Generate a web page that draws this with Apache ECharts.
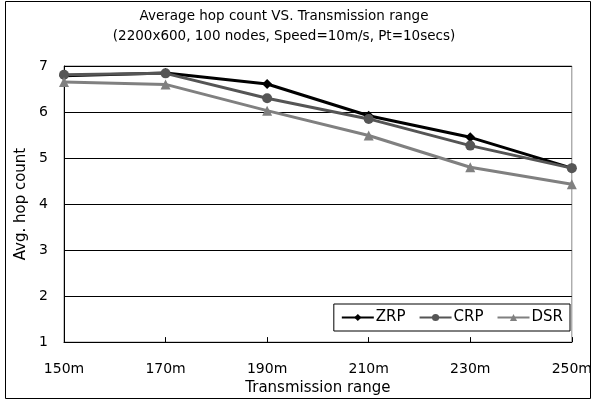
<!DOCTYPE html>
<html><head><meta charset="utf-8">
<script src="https://cdn.jsdelivr.net/npm/echarts@6/dist/echarts.min.js"></script>
<style>html,body{margin:0;padding:0;background:#fff}#c{width:595px;height:401px}</style>
</head><body><div id="c"></div>
<script>
const categories = ['150m','170m','190m','210m','230m','250m'];
const zrp = [6.79, 6.85, 6.61, 5.92, 5.45, 4.78];
const crp = [6.81, 6.84, 6.30, 5.85, 5.27, 4.78];
const dsr = [6.65, 6.60, 6.03, 5.49, 4.80, 4.43];
const titleLines = ['Average hop count VS. Transmission range', '(2200x600, 100 nodes, Speed=10m/s, Pt=10secs)'];
const FONT = 'DejaVu Sans';
const chart = echarts.init(document.getElementById('c'), null, {renderer:'canvas'});
chart.setOption({
  animation:false,
  backgroundColor:'#fff',
  textStyle:{fontFamily:FONT},
  title:{text:titleLines.join('\n'), left:279, top:1, textAlign:'center',
    textStyle:{fontFamily:FONT, fontSize:13.5, fontWeight:'normal', color:'#000', lineHeight:20}},
  graphic:[{type:'rect', shape:{x:5.5,y:1.5,width:585,height:397}, style:{fill:'none', stroke:'#000', lineWidth:1}, z:-1}],
  grid:{left:64, right:22, top:66, bottom:58, show:true, borderColor:'#888', borderWidth:1},
  legend:{right:25, top:304, orient:'horizontal', data:['ZRP','CRP','DSR'],
    backgroundColor:'#fff', borderColor:'#000', borderWidth:1, padding:[6,7], itemGap:13, itemWidth:32, itemHeight:9,
    textStyle:{fontFamily:FONT, fontSize:15, color:'#000', padding:[0,0,0,-3]}},
  xAxis:{type:'category', data:categories, boundaryGap:false,
    name:'Transmission range', nameLocation:'middle', nameGap:29,
    nameTextStyle:{fontFamily:FONT, fontSize:15, color:'#000'},
    axisLine:{lineStyle:{color:'#000', width:1}},
    axisTick:{show:true, inside:true, length:5, lineStyle:{color:'#000'}},
    axisLabel:{fontFamily:FONT, fontSize:14, color:'#000', margin:20},
    splitLine:{show:false}},
  yAxis:{type:'value', min:1, max:7, interval:1,
    name:'Avg. hop count', nameLocation:'middle', nameGap:32,
    nameTextStyle:{fontFamily:FONT, fontSize:15, color:'#000'},
    axisLine:{show:true, lineStyle:{color:'#000', width:1}},
    axisTick:{show:false},
    axisLabel:{fontFamily:FONT, fontSize:14, color:'#000', margin:16},
    splitLine:{show:true, lineStyle:{color:'#000', width:1}}},
  series:[
    {name:'ZRP', type:'line', data:zrp, symbol:'diamond', symbolSize:10,
      lineStyle:{color:'#000', width:3}, itemStyle:{color:'#000'}},
    {name:'CRP', type:'line', data:crp, symbol:'circle', symbolSize:10,
      lineStyle:{color:'#555', width:3}, itemStyle:{color:'#555'}},
    {name:'DSR', type:'line', data:dsr, symbol:'triangle', symbolSize:10,
      lineStyle:{color:'#808080', width:3}, itemStyle:{color:'#808080'}}
  ]
});
</script></body></html>
